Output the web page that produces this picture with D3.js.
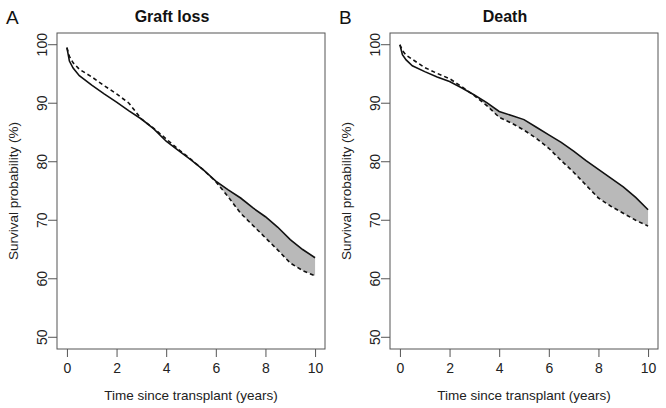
<!DOCTYPE html>
<html><head><meta charset="utf-8">
<script src="https://cdn.jsdelivr.net/npm/d3@7"></script>
<style>body{margin:0;background:#fff}svg{display:block}text{font-family:"Liberation Sans",Arial,sans-serif}</style>
</head><body>
<svg id="c" width="666" height="408"></svg>
<script>
const times = [0, 0.1, 0.25, 0.5, 1, 1.5, 2, 2.5, 3, 3.5, 4, 4.5, 5, 5.5, 6, 6.5, 7, 7.5, 8, 8.5, 9, 9.5, 10];
const graftSolid  = [99.5, 97.2, 96.0, 94.7, 93.1, 91.6, 90.2, 88.7, 87.3, 85.6, 83.5, 81.9, 80.3, 78.6, 76.7, 75.2, 73.8, 72.1, 70.6, 68.8, 66.7, 65.0, 63.6];
const graftDashed = [99.5, 98.0, 96.9, 95.8, 94.5, 93.0, 91.6, 90.0, 87.3, 85.7, 83.9, 82.1, 80.4, 78.6, 76.6, 74.0, 71.2, 69.1, 67.0, 64.9, 62.7, 61.4, 60.5];
const deathSolid  = [100, 98.3, 97.4, 96.4, 95.4, 94.5, 93.7, 92.6, 91.4, 90.1, 88.6, 87.9, 87.2, 85.9, 84.6, 83.3, 81.8, 80.2, 78.7, 77.2, 75.7, 73.9, 71.8];
const deathDashed = [100, 99.0, 98.2, 97.5, 96.1, 95.1, 94.2, 92.8, 91.3, 89.6, 87.6, 86.6, 85.4, 84.0, 82.3, 80.2, 78.2, 76.0, 73.8, 72.4, 71.2, 70.0, 69.0];
const xTicks = [0, 2, 4, 6, 8, 10];
const yTicks = [50, 60, 70, 80, 90, 100];
const panels = [
  {letter: "A", title: "Graft loss", solid: graftSolid, dashed: graftDashed, ox: 0},
  {letter: "B", title: "Death", solid: deathSolid, dashed: deathDashed, ox: 333}
];
const svg = d3.select("#c");

panels.forEach(p => {
  const g = svg.append("g").attr("transform", `translate(${p.ox},0)`);
  const x = d3.scaleLinear().domain([-0.4, 10.4]).range([57, 325]);
  const y = d3.scaleLinear().domain([48, 102]).range([349, 33]);
  const data = times.map((t, i) => ({t, s: p.solid[i], d: p.dashed[i]}));
  g.append("path").datum(data)
    .attr("d", d3.area().x(d => x(d.t)).y0(d => y(Math.min(d.s, d.d))).y1(d => y(d.s)))
    .attr("fill", "#b9b9b9").attr("stroke", "none");
  g.append("path").datum(data)
    .attr("d", d3.line().x(d => x(d.t)).y(d => y(d.s)))
    .attr("fill","none").attr("stroke","#111").attr("stroke-width",1.6);
  g.append("path").datum(data)
    .attr("d", d3.line().x(d => x(d.t)).y(d => y(d.d)))
    .attr("fill","none").attr("stroke","#111").attr("stroke-width",1.6).attr("stroke-dasharray","4,3");
  g.append("rect").attr("x",57).attr("y",33).attr("width",268).attr("height",316)
    .attr("fill","none").attr("stroke","#555").attr("stroke-width",1);
  const xa = g.append("g").attr("transform","translate(0,349)")
    .call(d3.axisBottom(x).tickValues(xTicks).tickSize(8).tickPadding(6).tickFormat(d3.format("d")));
  xa.select(".domain").remove();
  xa.selectAll("line").attr("stroke","#555");
  xa.selectAll("text").attr("font-size",14).attr("fill","#222");
  const ya = g.append("g").attr("transform","translate(57,0)")
    .call(d3.axisLeft(y).tickValues(yTicks).tickSize(9).tickFormat(d3.format("d")));
  ya.select(".domain").remove();
  ya.selectAll("line").attr("stroke","#555");
  ya.selectAll("g.tick").attr("transform", null);
  ya.selectAll("g.tick line").attr("transform", d => `translate(0,${y(d)})`);
  ya.selectAll("g.tick text").attr("font-size",14).attr("fill","#222")
    .attr("text-anchor","middle").attr("dy",null).attr("x",0).attr("y",0)
    .attr("transform", d => `translate(${46.5-57},${y(d)}) rotate(-90)`);
  g.append("text").attr("x",191).attr("y",400).attr("text-anchor","middle").attr("font-size",13.5).attr("fill","#222")
    .text("Time since transplant (years)");
  g.append("text").attr("transform","translate(17.5,191) rotate(-90)").attr("text-anchor","middle")
    .attr("font-size",13.5).attr("fill","#222").text("Survival probability (%)");
  g.append("text").attr("x",172).attr("y",22).attr("text-anchor","middle").attr("font-size",16)
    .attr("font-weight","bold").attr("fill","#111").text(p.title);
  g.append("text").attr("x",6).attr("y",24).attr("font-size",19).attr("fill","#111").text(p.letter);
});
</script>
</body></html>
